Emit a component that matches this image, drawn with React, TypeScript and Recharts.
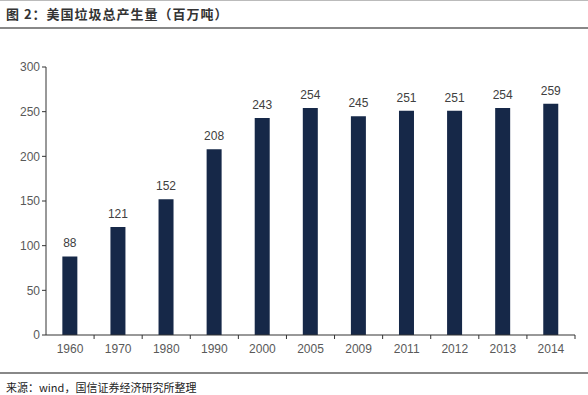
import { BarChart, Bar, XAxis, YAxis, LabelList } from 'recharts';

const years = ['1960', '1970', '1980', '1990', '2000', '2005', '2009', '2011', '2012', '2013', '2014'];
const waste = [88, 121, 152, 208, 243, 254, 245, 251, 251, 254, 259];
const yTicks = [0, 50, 100, 150, 200, 250, 300];

const data = years.map((year, i) => ({ year, waste: waste[i] }));

const cjk = '"Noto Sans CJK SC", "Liberation Sans", sans-serif';

function YearTick(props: any) {
  const { x, y, payload } = props;
  const half = payload?.offset ?? 24;
  return (
    <g>
      <line x1={x + half} x2={x + half} y1={y - 8} y2={y - 4} stroke="#333" />
      <text x={x} y={y + 10} textAnchor="middle" fill="#595959" fontSize={12} fontFamily="Liberation Sans, Arial, sans-serif">
        {payload.value}
      </text>
    </g>
  );
}

export default function App() {
  return (
    <div style={{ position: 'absolute', left: 0, top: 0, width: 588, height: 395, background: '#fff' }}>
      <div style={{ position: 'absolute', left: 0, top: 0, width: 588, height: 1, background: '#bbb' }} />
      <div
        style={{
          position: 'absolute', left: 6, top: 4, fontFamily: cjk, fontWeight: 700,
          fontSize: 13, color: '#333', letterSpacing: 1,
        }}
      >
        图 2：美国垃圾总产生量（百万吨）
      </div>
      <div style={{ position: 'absolute', left: 0, top: 27, width: 588, height: 2, background: '#888' }} />
      <div style={{ position: 'absolute', left: 0, top: 40 }}>
        <BarChart width={588} height={328} data={data} margin={{ top: 27, right: 13, left: 6, bottom: 5 }} barCategoryGap="34%">
          <XAxis
            dataKey="year"
            tick={<YearTick />}
            tickLine={false}
            axisLine={{ stroke: '#333' }}
            interval={0}
            height={28}
          />
          <YAxis
            domain={[0, 300]}
            ticks={yTicks}
            width={40}
            tick={{ fill: '#595959', fontSize: 12, fontFamily: 'Liberation Sans, Arial, sans-serif' }}
            tickLine={{ stroke: '#333' }}
            tickSize={4}
            axisLine={{ stroke: '#333' }}
          />
          <Bar dataKey="waste" fill="#162848" isAnimationActive={false}>
            <LabelList
              dataKey="waste"
              position="top"
              offset={9}
              fill="#404040"
              fontSize={12}
              fontFamily="Liberation Sans, Arial, sans-serif"
            />
          </Bar>
        </BarChart>
      </div>
      <div style={{ position: 'absolute', left: 0, top: 372, width: 588, height: 2, background: '#888' }} />
      <div
        style={{
          position: 'absolute', left: 6, top: 379, fontFamily: cjk,
          fontSize: 11, color: '#222',
        }}
      >
        来源：wind，国信证券经济研究所整理
      </div>
    </div>
  );
}
